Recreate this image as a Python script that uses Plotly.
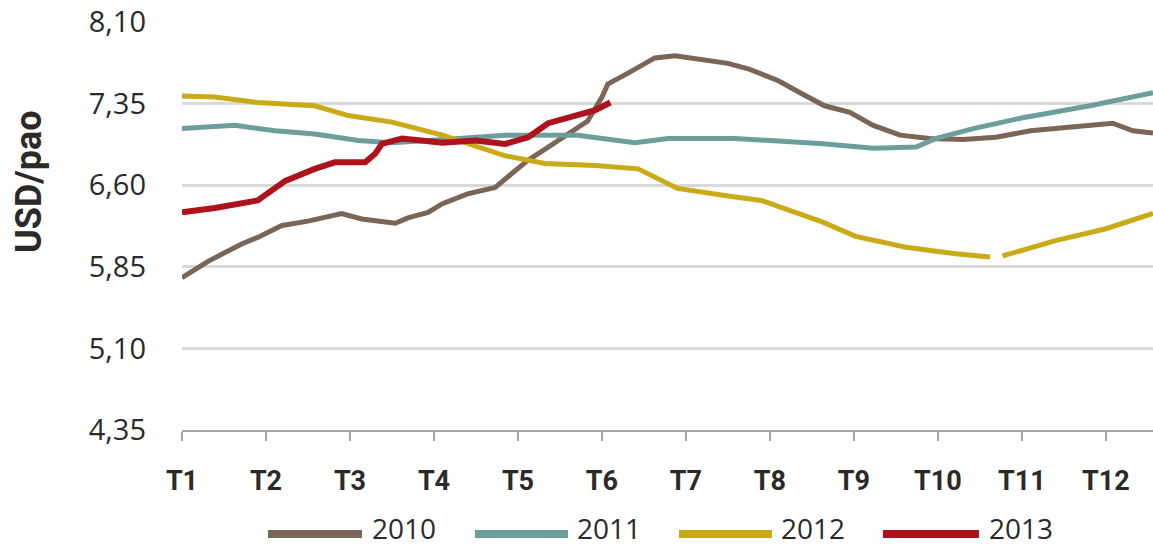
import plotly.graph_objects as go

# ---- data (month position, value) ----
x2010 = [1.0, 1.31, 1.71, 1.90, 2.19, 2.50, 2.90, 3.14, 3.54, 3.69, 3.93, 4.10, 4.40, 4.73, 4.93,
         5.12, 5.36, 5.60, 5.83, 6.00, 6.07, 6.31, 6.63, 6.87, 7.19, 7.50, 7.74, 8.10, 8.38, 8.65,
         8.95, 9.23, 9.55, 9.90, 10.30, 10.69, 11.10, 11.61, 12.08, 12.32, 12.56]
y2010 = [5.75, 5.90, 6.06, 6.12, 6.23, 6.27, 6.34, 6.29, 6.25, 6.30, 6.35, 6.43, 6.52, 6.58, 6.71,
         6.83, 6.95, 7.07, 7.19, 7.41, 7.53, 7.63, 7.77, 7.79, 7.76, 7.72, 7.67, 7.56, 7.44, 7.33,
         7.27, 7.15, 7.06, 7.03, 7.02, 7.04, 7.10, 7.14, 7.17, 7.10, 7.08]

x2011 = [1.0, 1.63, 2.11, 2.58, 3.10, 3.50, 4.29, 4.85, 5.71, 6.39, 6.79, 7.58, 8.63, 9.23, 9.74,
         9.98, 10.42, 11.01, 11.81, 12.56]
y2011 = [7.12, 7.15, 7.10, 7.07, 7.01, 6.99, 7.03, 7.06, 7.06, 6.99, 7.03, 7.03, 6.98, 6.94, 6.95,
         7.03, 7.12, 7.22, 7.33, 7.45]

x2012 = [1.0, 1.39, 1.90, 2.58, 2.98, 3.50, 4.10, 4.64, 4.85, 5.32, 5.92, 6.43, 6.90, 7.50, 7.90,
         8.30, 8.63, 9.02, 9.62, 10.21, 10.62, 10.70, 10.77, 11.40, 12.00, 12.56]
y2012 = [7.42, 7.41, 7.36, 7.33, 7.24, 7.18, 7.06, 6.92, 6.87, 6.80, 6.78, 6.75, 6.57, 6.50, 6.46,
         6.35, 6.26, 6.13, 6.03, 5.97, 5.94, None, 5.95, 6.09, 6.20, 6.34]

x2013 = [1.0, 1.39, 1.90, 2.02, 2.23, 2.58, 2.82, 3.18, 3.30, 3.38, 3.62, 4.10, 4.49, 4.85, 5.12,
         5.36, 5.71, 5.92, 6.10]
y2013 = [6.35, 6.39, 6.46, 6.53, 6.64, 6.75, 6.81, 6.81, 6.89, 6.98, 7.03, 6.99, 7.01, 6.98, 7.04,
         7.17, 7.24, 7.29, 7.36]

month_vals = list(range(1, 13))
month_labels = ["T1", "T2", "T3", "T4", "T5", "T6", "T7", "T8", "T9", "T10", "T11", "T12"]
y_vals = [4.35, 5.10, 5.85, 6.60, 7.35, 8.10]
y_labels = ["4,35", "5,10", "5,85", "6,60", "7,35", "8,10"]

series_names = ["2010", "2011", "2012", "2013"]
colors = ["#7A6556", "#6C9E9D", "#C9AA17", "#AE131C"]
widths = [5, 5, 5, 6]

W, H = 1153, 549
L, R, T, B = 182, 0, 22, 119

fig = go.Figure()
for xs, ys, name, c, w in zip([x2010, x2011, x2012, x2013], [y2010, y2011, y2012, y2013],
                              series_names, colors, widths):
    fig.add_trace(go.Scatter(x=xs, y=ys, mode="lines", name=name,
                             line=dict(color=c, width=w), connectgaps=False, showlegend=False))

text_color = "#2B2A29"

fig.update_layout(
    width=W, height=H,
    margin=dict(l=L, r=R, t=T, b=B, pad=0),
    paper_bgcolor="white", plot_bgcolor="white",
    font=dict(family="Open Sans", color=text_color),
)
fig.update_xaxes(range=[1, 12.56], tickvals=month_vals, ticktext=month_labels,
                 showgrid=False, zeroline=False, showline=True, linecolor="#A6A6A6", linewidth=2,
                 ticks="outside", ticklen=9, tickwidth=2, tickcolor="#A6A6A6",
                 ticklabelstandoff=17,
                 tickfont=dict(family="Roboto", size=27, color=text_color, weight="bold"))
fig.update_yaxes(range=[4.35, 8.10], tickvals=y_vals, ticktext=y_labels,
                 showgrid=True, gridcolor="#D9D9D9", gridwidth=3, zeroline=False, showline=False,
                 ticks="", ticklabelstandoff=35,
                 tickfont=dict(family="Open Sans", size=29, color=text_color))

pw = W - L - R
ph = H - T - B


def px(xp):
    return (xp - L) / pw


def py(yp):
    return (H - B - yp) / ph


# y-axis title
fig.add_annotation(x=px(29), y=py(182), xref="paper", yref="paper", text="<b>USD/pao</b>",
                   textangle=-90, showarrow=False, xanchor="center", yanchor="middle",
                   font=dict(family="Roboto", size=36, color=text_color))

# custom legend
leg_lines = [(268, 362), (475, 568), (679, 772), (883, 979)]
leg_text_x = [371, 576, 780, 988]
leg_y = 534
for (x0, x1), tx, name, c in zip(leg_lines, leg_text_x, series_names, colors):
    fig.add_shape(type="line", xref="paper", yref="paper", x0=px(x0), x1=px(x1),
                  y0=py(leg_y), y1=py(leg_y), line=dict(color=c, width=8))
    fig.add_annotation(x=px(tx), y=py(548), xref="paper", yref="paper", text=name,
                       showarrow=False, xanchor="left", yanchor="bottom", borderpad=0,
                       font=dict(family="Open Sans", size=28, color=text_color))

fig.write_html("out.html", config={"displayModeBar": False},
               post_script="document.body.style.margin='0';document.body.style.overflow='hidden';")
